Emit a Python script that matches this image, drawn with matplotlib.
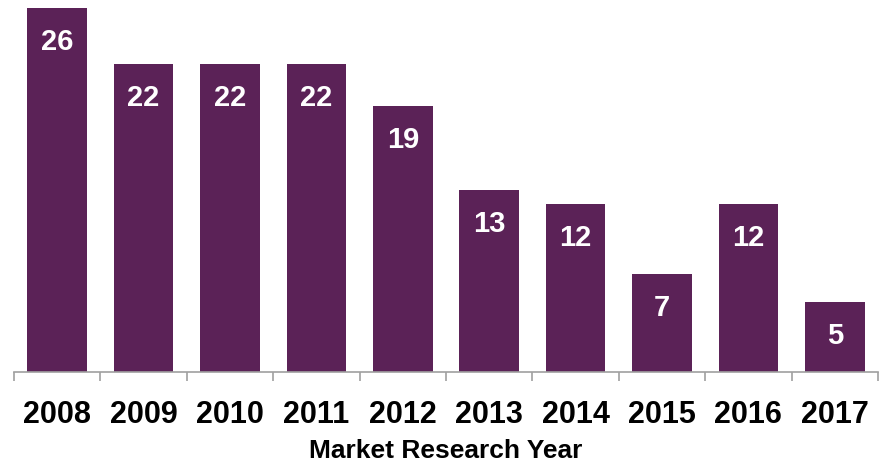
import numpy as np
import matplotlib.pyplot as plt

years = ["2008", "2009", "2010", "2011", "2012", "2013", "2014", "2015", "2016", "2017"]
counts = [26, 22, 22, 22, 19, 13, 12, 7, 12, 5]

bar_color = "#5B2257"
font = "Liberation Sans"

fig = plt.figure(figsize=(8.83, 4.62), dpi=100)
ax = fig.add_axes([14 / 883, 90 / 462, 864 / 883, 364 / 462])

x = np.arange(len(years))
bars = ax.bar(x, counts, width=0.69, color=bar_color)

for b, v in zip(bars, counts):
    ax.text(b.get_x() + b.get_width() / 2, v - 2.4, str(v), ha="center", va="center",
            color="white", fontsize=21, fontweight="bold", family=font)

ax.set_xlim(-0.5, len(years) - 0.5)
ax.set_ylim(0, 26)
ax.set_xticks(x)
ax.set_xticklabels(years, fontsize=22, fontweight="bold", family=font)
ax.set_xticks(np.arange(len(years) + 1) - 0.5, minor=True)
ax.tick_params(axis="x", which="major", length=0, pad=20)
ax.tick_params(axis="x", which="minor", length=6.5, width=1.2, color="#A0A0A0")
ax.set_yticks([])

for s in ["top", "right", "left"]:
    ax.spines[s].set_visible(False)
ax.spines["bottom"].set_color("#A0A0A0")
ax.spines["bottom"].set_linewidth(1.2)

ax.set_xlabel("Market Research Year", fontsize=19, fontweight="bold", family=font, labelpad=7)

fig.savefig("out.png", dpi=100)
